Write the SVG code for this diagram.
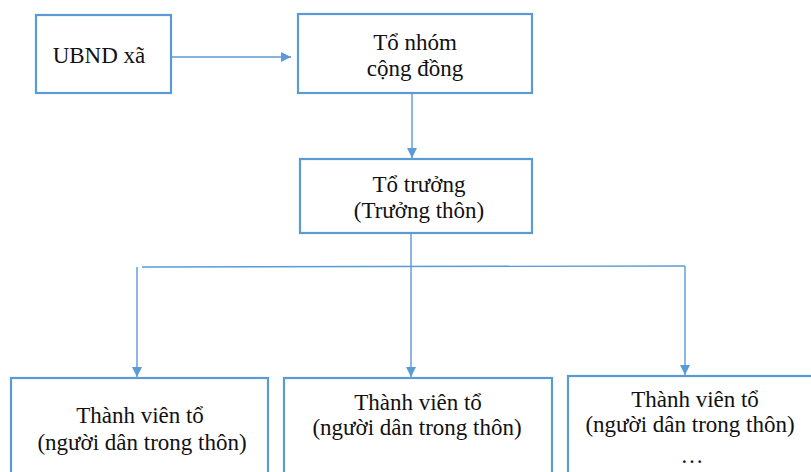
<svg xmlns="http://www.w3.org/2000/svg" width="811" height="472" viewBox="0 0 811 472">
<style>
.box{fill:#fff;stroke:#5B9BD5;stroke-width:2.2}
.c{fill:none;stroke:#5B9BD5;stroke-width:1.4}
text{font-family:"Liberation Serif","Times New Roman",serif;font-size:23px;fill:#111;text-anchor:middle}
</style>
<defs>
<marker id="ah" viewBox="0 0 10 10" refX="10" refY="5" markerWidth="10" markerHeight="10" markerUnits="userSpaceOnUse" orient="auto">
<path d="M0,0 L10,5 L0,10 Z" fill="#5B9BD5"/>
</marker>
</defs>
<rect width="811" height="472" fill="#fff"/>
<g id="connectors">
<line class="c" x1="171" y1="57" x2="291" y2="57" marker-end="url(#ah)"/>
<line class="c" x1="412" y1="93" x2="412" y2="158" marker-end="url(#ah)"/>
<line class="c" x1="411" y1="233" x2="411" y2="377" marker-end="url(#ah)"/>
<line class="c" x1="142" y1="267" x2="685" y2="266"/>
<line class="c" x1="137" y1="267" x2="137" y2="377" marker-end="url(#ah)"/>
<line class="c" x1="685" y1="266" x2="685" y2="375" marker-end="url(#ah)"/>
</g>
<g id="ubnd">
<rect class="box" x="36" y="15" width="135" height="78"/>
<text x="99" y="63">UBND xã</text>
</g>
<g id="tonhom">
<rect class="box" x="298" y="14" width="234" height="79"/>
<text x="415" y="50">Tổ nhóm</text>
<text x="415" y="76">cộng đồng</text>
</g>
<g id="totruong">
<rect class="box" x="300" y="159" width="232" height="74"/>
<text x="419" y="192">Tổ trưởng</text>
<text x="419" y="218">(Trưởng thôn)</text>
</g>
<g id="tv1">
<rect class="box" x="11" y="378" width="257" height="110"/>
<text x="140" y="423">Thành viên tổ</text>
<text x="142" y="450">(người dân trong thôn)</text>
</g>
<g id="tv2">
<rect class="box" x="284" y="378" width="268" height="110"/>
<text x="418" y="410">Thành viên tổ</text>
<text x="417" y="435">(người dân trong thôn)</text>
</g>
<g id="tv3">
<rect class="box" x="568" y="376" width="260" height="110"/>
<text x="695" y="407">Thành viên tổ</text>
<text x="690" y="432">(người dân trong thôn)</text>
<text x="692" y="463">…</text>
</g>
</svg>
